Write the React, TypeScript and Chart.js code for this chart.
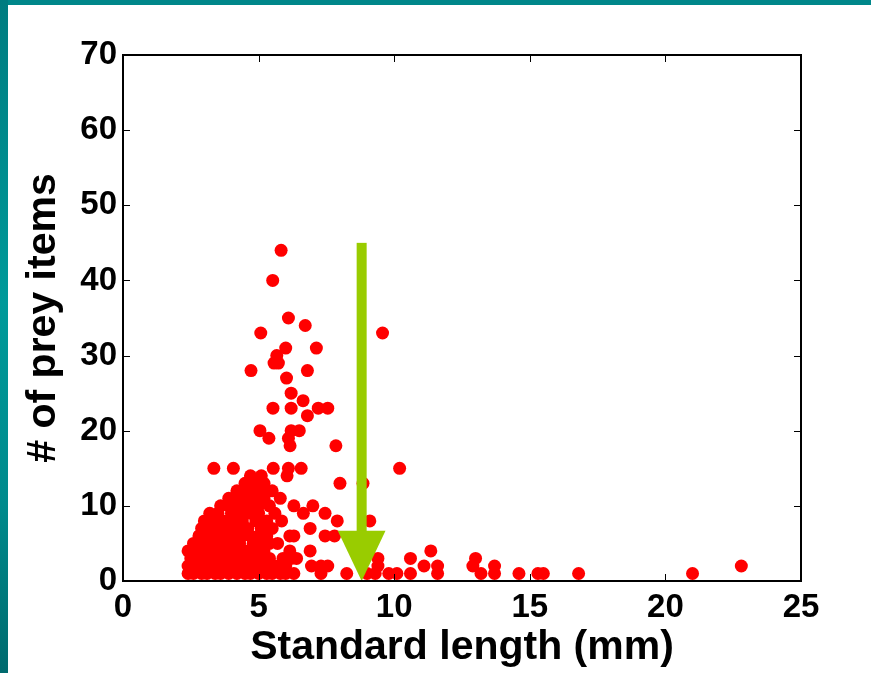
import React, { useEffect, useRef } from "react";
import { Chart, registerables } from "chart.js";

Chart.register(...registerables);

// ---- data ----
const xTickValues = [0, 5, 10, 15, 20, 25];
const yTickValues = [0, 10, 20, 30, 40, 50, 60, 70];

const preyCounts = [1, 2, 3, 4, 5, 6, 7, 8, 9, 10, 11, 12, 13, 14, 15, 18, 19, 20, 22, 23, 24, 25, 27, 28, 29, 30, 31, 33, 34, 35, 40, 44];

const lengthsByCount = [
  [2.4, 2.6, 2.9, 3.1, 3.4, 3.6, 3.9, 4.2, 4.5, 4.7, 5.0, 5.3, 5.5, 5.8, 6.0, 6.3, 7.3, 8.25, 9.0, 9.3, 9.8, 10.1, 10.6, 11.6, 13.2, 13.7, 14.6, 15.3, 15.5, 16.8, 21.0],
  [2.4, 2.7, 3.0, 3.3, 3.5, 3.8, 4.1, 4.4, 4.8, 5.2, 5.6, 5.8, 6.0, 6.95, 7.3, 7.55, 9.4, 11.1, 11.6, 12.9, 13.7, 22.8],
  [2.5, 2.8, 3.1, 3.3, 3.7, 4.0, 4.3, 4.6, 5.0, 5.4, 5.9, 6.2, 6.4, 9.4, 10.6, 13.0],
  [2.4, 2.7, 3.0, 3.4, 3.8, 4.2, 4.5, 4.9, 5.2, 6.15, 6.9, 11.35],
  [2.6, 2.9, 3.2, 3.5, 3.9, 4.3, 4.8, 5.1, 5.4, 5.7],
  [2.8, 3.0, 3.3, 3.7, 4.0, 4.4, 4.7, 5.0, 5.3, 6.15, 6.3, 7.45, 7.8],
  [2.9, 3.2, 3.5, 3.9, 4.2, 4.6, 5.1, 5.5, 6.9],
  [3.0, 3.4, 3.8, 4.1, 4.4, 4.9, 5.3, 5.85, 7.9, 9.1],
  [3.2, 3.5, 4.0, 4.3, 4.7, 5.0, 5.6, 6.65, 7.45],
  [3.6, 3.9, 4.3, 4.6, 5.0, 5.4, 6.3, 7.0],
  [3.9, 4.2, 4.5, 4.9, 5.2, 5.8],
  [4.2, 4.5, 4.8, 5.1, 5.5],
  [4.5, 4.9, 5.2, 8.0, 8.85],
  [4.7, 5.1, 6.05],
  [3.35, 4.07, 5.54, 6.1, 6.57, 10.2],
  [6.16, 7.85],
  [5.38, 6.1],
  [5.05, 6.2, 6.5],
  [6.8],
  [5.53, 6.2, 7.2, 7.55],
  [6.64],
  [6.2],
  [6.03],
  [4.72, 6.8],
  [5.57, 5.73],
  [5.67],
  [6.0, 7.13],
  [5.08, 9.57],
  [6.72],
  [6.1],
  [5.52],
  [5.83],
];

// green arrow annotation (data units)
const arrowLength = 8.8;
const arrowTopCount = 45;
const arrowHeadBaseCount = 6.7;
const arrowHeadHalfWidth = 0.88;

const FONT = '"Liberation Sans", Arial, sans-serif';

const framePlugin = {
  id: "frameAndArrow",
  afterDatasetsDraw(chart: any) {
    const { ctx, chartArea, scales } = chart;
    const { left, right, top, bottom } = chartArea;
    const x = scales.x;
    const y = scales.y;
    ctx.save();
    // arrow
    ctx.fillStyle = "#99cc00";
    const ax = x.getPixelForValue(arrowLength);
    const yTop = y.getPixelForValue(arrowTopCount);
    const yBase = y.getPixelForValue(arrowHeadBaseCount);
    const yTip = y.getPixelForValue(0);
    const hw = x.getPixelForValue(arrowLength + arrowHeadHalfWidth) - ax;
    ctx.fillRect(ax - 5, yTop, 10, yBase - yTop + 1);
    ctx.beginPath();
    ctx.moveTo(ax - hw, yBase);
    ctx.lineTo(ax + hw, yBase);
    ctx.lineTo(ax, yTip);
    ctx.closePath();
    ctx.fill();

    // frame
    ctx.strokeStyle = "#000";
    ctx.lineWidth = 2;
    ctx.strokeRect(left, top, right - left, bottom - top);
    // inward ticks
    ctx.lineWidth = 1;
    const tl = 7;
    ctx.beginPath();
    for (const v of xTickValues) {
      const px = Math.round(x.getPixelForValue(v)) + 0.5;
      ctx.moveTo(px, bottom);
      ctx.lineTo(px, bottom - tl);
      ctx.moveTo(px, top);
      ctx.lineTo(px, top + tl);
    }
    for (const v of yTickValues) {
      const py = Math.round(y.getPixelForValue(v)) + 0.5;
      ctx.moveTo(left, py);
      ctx.lineTo(left + tl, py);
      ctx.moveTo(right, py);
      ctx.lineTo(right - tl, py);
    }
    ctx.stroke();
    ctx.restore();
  },
};

export default function App() {
  const canvasRef = useRef<HTMLCanvasElement | null>(null);

  useEffect(() => {
    document.body.style.margin = "0";
    const points: { x: number; y: number }[] = [];
    preyCounts.forEach((c, i) => {
      lengthsByCount[i].forEach((l) => points.push({ x: l, y: c }));
    });
    const canvas = canvasRef.current!;
    const chart = new Chart(canvas, {
      type: "scatter",
      data: {
        datasets: [
          {
            data: points,
            backgroundColor: "#ff0000",
            borderWidth: 0,
            pointRadius: 6.5,
            pointHoverRadius: 6.5,
          },
        ],
      },
      options: {
        animation: false,
        responsive: false,
        events: [],
        layout: { padding: { top: 55, right: 70, left: 0, bottom: 0 } },
        plugins: { legend: { display: false }, tooltip: { enabled: false } },
        scales: {
          x: {
            type: "linear",
            min: 0,
            max: 25,
            afterBuildTicks: (s: any) => {
              s.ticks = xTickValues.map((v) => ({ value: v }));
            },
            afterFit: (s: any) => {
              s.height = 92;
            },
            ticks: {
              color: "#000",
              padding: 7,
              font: { family: FONT, size: 33, weight: "bold" },
            },
            grid: { display: false, drawTicks: false },
            border: { display: false },
            title: {
              display: true,
              text: "Standard length (mm)",
              color: "#000",
              font: { family: FONT, size: 41, weight: "bold" },
              padding: { top: 0, bottom: 1 },
            },
          },
          y: {
            type: "linear",
            min: 0,
            max: 70,
            afterBuildTicks: (s: any) => {
              s.ticks = yTickValues.map((v) => ({ value: v }));
            },
            afterFit: (s: any) => {
              s.width = 123;
            },
            ticks: {
              color: "#000",
              padding: 6,
              font: { family: FONT, size: 33, weight: "bold" },
            },
            grid: { display: false, drawTicks: false },
            border: { display: false },
            title: {
              display: true,
              text: "# of prey items",
              color: "#000",
              font: { family: FONT, size: 41, weight: "bold" },
              padding: { top: 19, bottom: 0 },
            },
          },
        },
      },
      plugins: [framePlugin],
    } as any);
    return () => chart.destroy();
  }, []);

  return (
    <div style={{ position: "absolute", left: 0, top: 0, width: 871, height: 673, background: "#fff", overflow: "hidden" }}>
      <div style={{ position: "absolute", left: 0, top: 0, width: 871, height: 5, background: "#00878a" }} />
      <div
        style={{
          position: "absolute",
          left: 0,
          top: 0,
          width: 8,
          height: 673,
          background: "linear-gradient(to bottom, #007c80 0%, #009a9a 45%, #008a8c 75%, #006a6e 100%)",
        }}
      />
      <canvas ref={canvasRef} width={871} height={673} style={{ position: "absolute", left: 0, top: 0 }} />
    </div>
  );
}
